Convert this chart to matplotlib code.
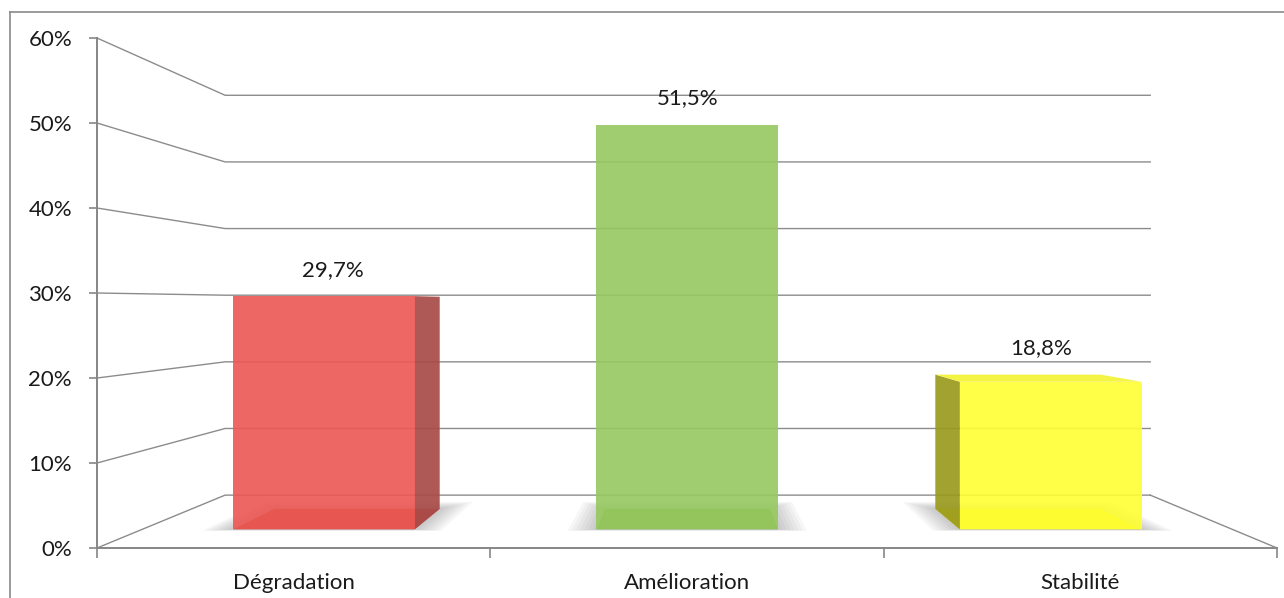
import matplotlib
matplotlib.use("Agg")
import matplotlib.pyplot as plt
from matplotlib.patches import Polygon
from matplotlib.lines import Line2D

# chart data
categories = ["Dégradation", "Amélioration", "Stabilité"]
values = [29.7, 51.5, 18.8]
value_labels = ["29,7%", "51,5%", "18,8%"]
y_ticks = [0, 10, 20, 30, 40, 50, 60]
y_tick_labels = ["0%", "10%", "20%", "30%", "40%", "50%", "60%"]

# perspective parameters (front plane in data units: x = category, y = %)
VANISH = (1.508, 28.8)
S_WALL = 0.784
S_BAR_FRONT = 0.924
S_BAR_BACK = 0.84
S_LABEL = 0.9
BAR_WIDTH = 0.5

# plotting parameters
FIG_SIZE = (12.84, 5.98)
GRID_COLOR = "#8c8c8c"
AXIS_COLOR = "#868686"
TEXT_COLOR = "#1a1a1a"
FONT_SIZE = 16
FRONT_COLORS = ["#EC5854", "#96C85F", "#FFFF33"]
SIDE_COLORS = ["#A84B48", "#6F9A3E", "#9A9A1E"]
BOTTOM_COLORS = ["#CC4C48", "#86B452", "#E6E628"]
TOP_COLORS = ["#F27470", "#A8D574", "#F4F43A"]

plt.rcParams["font.family"] = ["Lato", "DejaVu Sans"]


def proj(x, y, s):
    """Project a point of the front plane to depth s (1 = front)."""
    return (VANISH[0] + (x - VANISH[0]) * s, VANISH[1] + (y - VANISH[1]) * s)


def quad(ax, pts, color, z, alpha=1.0):
    ax.add_patch(Polygon(pts, closed=True, facecolor=color, edgecolor="none",
                         alpha=alpha, zorder=z, clip_on=False))


fig = plt.figure(figsize=FIG_SIZE, dpi=100)
ax = fig.add_axes([97 / 1284, 50 / 598, 1180 / 1284, 510 / 598])
ax.set_xlim(0, len(categories))
ax.set_ylim(y_ticks[0], y_ticks[-1])

# walls: left wall lines, back wall lines, floor
x_max = len(categories)
for t in y_ticks:
    bx0, by = proj(0, t, S_WALL)
    bx1, _ = proj(x_max, t, S_WALL)
    ax.plot([0, bx0, bx1], [t, by, by], color=GRID_COLOR, lw=1,
            zorder=1, clip_on=False)
bx1, by = proj(x_max, 0, S_WALL)
ax.plot([bx1, x_max], [by, 0], color=GRID_COLOR, lw=1, zorder=1, clip_on=False)

# bars
for i, v in enumerate(values):
    c = i + 0.5
    x0, x1 = c - BAR_WIDTH / 2, c + BAR_WIDTH / 2

    # soft floor shadow
    for k in range(7):
        m = 0.011 * (k + 1)
        ds = 0.004 * (k + 1)
        quad(ax, [proj(x0 - m, 0, S_BAR_FRONT + ds * 0.2),
                  proj(x1 + m, 0, S_BAR_FRONT + ds * 0.2),
                  proj(x1 + m, 0, S_BAR_BACK - ds),
                  proj(x0 - m, 0, S_BAR_BACK - ds)],
             "#707070", 2, alpha=0.06)

    # bottom face
    quad(ax, [proj(x0, 0, S_BAR_FRONT), proj(x1, 0, S_BAR_FRONT),
              proj(x1, 0, S_BAR_BACK), proj(x0, 0, S_BAR_BACK)],
         BOTTOM_COLORS[i], 3)

    # side face (only when it sticks out of the front face)
    xs = None
    if x1 < VANISH[0]:
        xs = x1
    elif x0 > VANISH[0]:
        xs = x0
    if xs is not None:
        quad(ax, [proj(xs, 0, S_BAR_FRONT), proj(xs, v, S_BAR_FRONT),
                  proj(xs, v, S_BAR_BACK), proj(xs, 0, S_BAR_BACK)],
             SIDE_COLORS[i], 4, alpha=0.92)

    # top face (visible below eye level)
    if v < VANISH[1]:
        quad(ax, [proj(x0, v, S_BAR_FRONT), proj(x1, v, S_BAR_FRONT),
                  proj(x1, v, S_BAR_BACK), proj(x0, v, S_BAR_BACK)],
             TOP_COLORS[i], 4, alpha=0.95)

    # front face
    quad(ax, [proj(x0, 0, S_BAR_FRONT), proj(x1, 0, S_BAR_FRONT),
              proj(x1, v, S_BAR_FRONT), proj(x0, v, S_BAR_FRONT)],
         FRONT_COLORS[i], 5, alpha=0.9)

    # value label above the highest visible top edge
    top_y = max(proj(c, v, S_BAR_FRONT)[1], proj(c, v, S_BAR_BACK)[1])
    lx = proj(c, v, S_LABEL)[0]
    ax.annotate(value_labels[i], (lx, top_y), xytext=(0, 19),
                textcoords="offset points", ha="center", va="center",
                fontsize=FONT_SIZE, color=TEXT_COLOR, zorder=6,
                annotation_clip=False)

# axes styling
for side in ["top", "right"]:
    ax.spines[side].set_visible(False)
for side in ["left", "bottom"]:
    ax.spines[side].set_color(AXIS_COLOR)
    ax.spines[side].set_linewidth(1.4)
    ax.spines[side].set_zorder(7)
ax.patch.set_visible(False)

ax.set_yticks(y_ticks, y_tick_labels)
ax.tick_params(axis="y", length=6, width=1.2, color=AXIS_COLOR, pad=12,
               labelsize=FONT_SIZE, labelcolor=TEXT_COLOR)
ax.set_xticks(range(len(categories) + 1), [""] * (len(categories) + 1))
ax.set_xticks([i + 0.5 for i in range(len(categories))], categories, minor=True)
ax.tick_params(axis="x", which="major", length=7, width=1.2, color=AXIS_COLOR)
ax.tick_params(axis="x", which="minor", length=0, pad=18, labelsize=FONT_SIZE,
               labelcolor=TEXT_COLOR)

# outer chart border
fig.add_artist(Line2D([10 / 1284, 1], [1 - 12 / 598] * 2, color="#8a8a8a",
                      lw=1.2, transform=fig.transFigure))
fig.add_artist(Line2D([10 / 1284] * 2, [0, 1 - 12 / 598], color="#8a8a8a",
                      lw=1.2, transform=fig.transFigure))

fig.savefig("out.png", dpi=100, facecolor="white")
